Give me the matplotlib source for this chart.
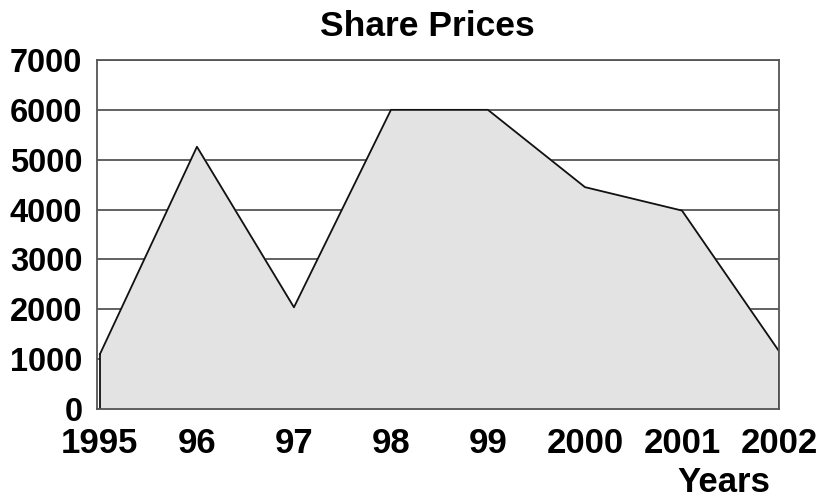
import numpy as np
import matplotlib
matplotlib.use("Agg")
import matplotlib.pyplot as plt

# dados
anos = ["1995", "96", "97", "98", "99", "2000", "2001", "2002"]
precos = [1100, 5260, 2040, 6000, 6000, 4450, 3980, 1160]

plt.rcParams['font.family'] = ['Liberation Sans', 'DejaVu Sans']

fig = plt.figure(figsize=(8.18, 5.0), dpi=100)
ax = fig.add_axes([0.1186, 0.182, 0.8337, 0.698])

x = np.arange(len(anos))
ax.fill_between(x, precos, 0, color='#e3e3e3', zorder=2)
ax.plot(x, precos, color='#111111', lw=1.3, zorder=3)
ax.plot([x[0], x[0]], [0, precos[0]], color='#111111', lw=1.3, zorder=3)
ax.plot([x[-1], x[-1]], [0, precos[-1]], color='#111111', lw=1.3, zorder=3)

ax.set_xlim(-0.03, len(anos) - 1)
ax.set_ylim(0, 7000)
ax.set_yticks(np.arange(0, 7001, 1000))
ax.set_xticks(x)
ax.set_xticklabels(anos)

ax.yaxis.grid(True, color='#555555', lw=1.3, zorder=1)
ax.set_axisbelow(True)
for s in ax.spines.values():
    s.set_color('#555555')
    s.set_linewidth(1.3)
    s.set_zorder(4)

ax.tick_params(axis='both', length=0)
ax.tick_params(axis='y', pad=10.5, labelsize=23.5)
ax.tick_params(axis='x', pad=13, labelsize=25)
for lbl in ax.get_xticklabels() + ax.get_yticklabels():
    lbl.set_fontweight('bold')

fig.text(0.523, 0.948, "Share Prices", ha='center', va='center',
         fontsize=25.5, fontweight='bold')
fig.text(0.885, 0.035, "Years", ha='center', va='center',
         fontsize=25, fontweight='bold')

fig.savefig("out.png", dpi=100)
